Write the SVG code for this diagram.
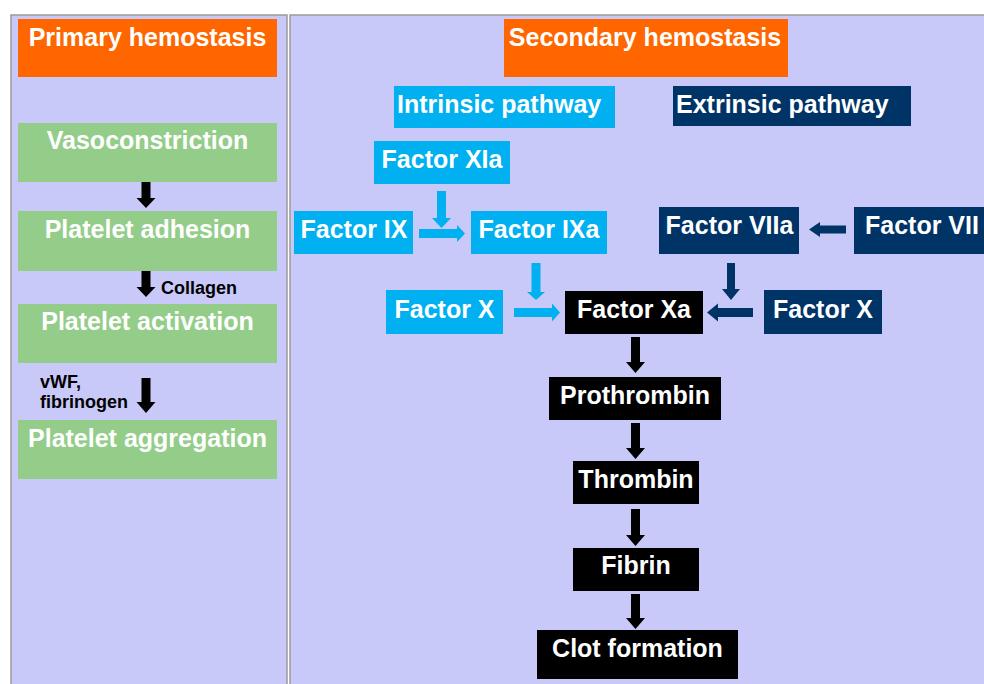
<svg xmlns="http://www.w3.org/2000/svg" width="984" height="684" viewBox="0 0 984 684">
<style>
.panel{fill:#C9C9F9;stroke:#9a9a9a;stroke-width:1.5}
.t{font-family:"Liberation Sans",Arial,sans-serif;font-weight:bold;font-size:25px;fill:#fff}
.c{text-anchor:middle}
.s{font-family:"Liberation Sans",Arial,sans-serif;font-weight:bold;font-size:18px;fill:#000}
.org{fill:#FF6600}
.grn{fill:#93CD89}
.cy{fill:#00B0F0}
.nv{fill:#003366}
.bk{fill:#000}
</style>
<rect x="0" y="0" width="984" height="684" fill="#fff"/>
<g id="panels">
<rect class="panel" x="11" y="15" width="276" height="690"/>
<rect class="panel" x="290" y="15" width="710" height="690"/>
</g>
<g id="primary"><rect class="org" x="18" y="19" width="259" height="58"/><text class="t c" x="147.5" y="46">Primary hemostasis</text></g>
<g id="vasoconstriction"><rect class="grn" x="18" y="123" width="259" height="59"/><text class="t c" x="147.5" y="149">Vasoconstriction</text></g>
<g id="adhesion"><rect class="grn" x="18" y="211" width="259" height="60"/><text class="t c" x="147.5" y="238">Platelet adhesion</text></g>
<g id="activation"><rect class="grn" x="18" y="304" width="259" height="59"/><text class="t c" x="147.5" y="330">Platelet activation</text></g>
<g id="aggregation"><rect class="grn" x="18" y="420" width="259" height="59"/><text class="t c" x="147.5" y="447">Platelet aggregation</text></g>
<g id="secondary"><rect class="org" x="504" y="19" width="284" height="58"/><text class="t c" x="645" y="46">Secondary hemostasis</text></g>
<g id="intrinsic"><rect class="cy" x="394" y="86" width="221" height="42"/><text class="t" x="397" y="113">Intrinsic pathway</text></g>
<g id="extrinsic"><rect class="nv" x="673" y="86" width="238" height="40"/><text class="t" x="676" y="113">Extrinsic pathway</text></g>
<g id="factorXIa"><rect class="cy" x="374" y="141" width="136" height="43"/><text class="t c" x="442" y="168">Factor XIa</text></g>
<g id="factorIX"><rect class="cy" x="294" y="211" width="119" height="43"/><text class="t c" x="354" y="238">Factor IX</text></g>
<g id="factorIXa"><rect class="cy" x="471" y="211" width="136" height="43"/><text class="t c" x="539" y="238">Factor IXa</text></g>
<g id="factorX-int"><rect class="cy" x="386" y="290" width="117" height="44"/><text class="t c" x="444.5" y="318">Factor X</text></g>
<g id="factorXa"><rect class="bk" x="565" y="291" width="138" height="43"/><text class="t c" x="634" y="318">Factor Xa</text></g>
<g id="factorVIIa"><rect class="nv" x="659" y="207" width="140" height="47"/><text class="t c" x="729.5" y="234">Factor VIIa</text></g>
<g id="factorVII"><rect class="nv" x="854" y="207" width="140" height="47"/><text class="t" x="865" y="234">Factor VII</text></g>
<g id="factorX-ext"><rect class="nv" x="764" y="290" width="118" height="44"/><text class="t c" x="823" y="318">Factor X</text></g>
<g id="prothrombin"><rect class="bk" x="549" y="377" width="172" height="43"/><text class="t c" x="635" y="404">Prothrombin</text></g>
<g id="thrombin"><rect class="bk" x="573" y="461" width="126" height="43"/><text class="t c" x="636" y="488">Thrombin</text></g>
<g id="fibrin"><rect class="bk" x="573" y="548" width="126" height="43"/><text class="t c" x="636" y="574">Fibrin</text></g>
<g id="clot"><rect class="bk" x="537" y="630" width="201" height="49"/><text class="t c" x="637.5" y="657">Clot formation</text></g>
<g id="connectors">
<polygon class="bk" points="141.5,182 150.5,182 150.5,198 155.5,198 146,208 136.5,198 141.5,198"/>
<polygon class="bk" points="141.5,271 150.5,271 150.5,287 155.5,287 146,297 136.5,287 141.5,287"/>
<polygon class="bk" points="141.5,378 150.5,378 150.5,402 155.5,402 146,413 136.5,402 141.5,402"/>
<text class="s" x="161" y="294">Collagen</text>
<text class="s" x="40" y="388">vWF,</text>
<text class="s" x="40" y="408">fibrinogen</text>
<polygon class="cy" points="437,191 446,191 446,218 451,218 441.5,228 432,218 437,218"/>
<polygon class="cy" points="419,229 457,229 457,225 465,233.5 457,242 457,238 419,238"/>
<polygon class="cy" points="531.5,263 540.5,263 540.5,292 545,292 536,300 527,292 531.5,292"/>
<polygon class="cy" points="514,308 552,308 552,303.5 560,312.5 552,321.5 552,317 514,317"/>
<polygon class="nv" points="846,225.5 820,225.5 820,222 809,229.5 820,237 820,233.5 846,233.5"/>
<polygon class="nv" points="727,263 735,263 735,289 740,289 731,300 722,289 727,289"/>
<polygon class="nv" points="753,308 718,308 718,303.5 707,312.5 718,321.5 718,317 753,317"/>
<polygon class="bk" points="631,337 640,337 640,362 645,362 635.5,373 626,362 631,362"/>
<polygon class="bk" points="631,423 640,423 640,448 645,448 635.5,459 626,448 631,448"/>
<polygon class="bk" points="631,509 640,509 640,535 645,535 635.5,546 626,535 631,535"/>
<polygon class="bk" points="631,594 640,594 640,618 645,618 635.5,629 626,618 631,618"/>
</g>
</svg>
